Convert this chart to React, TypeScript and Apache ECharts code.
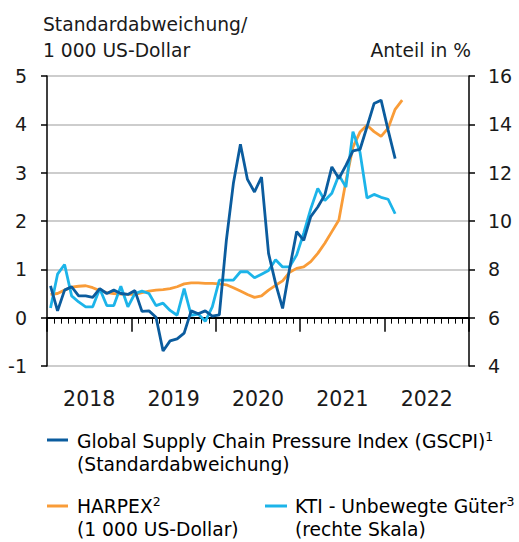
import React, { useEffect, useRef } from "react";
import * as echarts from "echarts";

const years = ["2018", "2019", "2020", "2021", "2022"];

// GSCPI (Standardabweichung), monthly from Jan 2018
const gscpi = [
  0.66, 0.14, 0.57, 0.64, 0.45, 0.45, 0.42, 0.6, 0.5, 0.57, 0.5, 0.48,
  0.56, 0.13, 0.14, 0.01, -0.69, -0.48, -0.44, -0.32, 0.14, 0.08, 0.14, 0.03,
  0.06, 1.6, 2.78, 3.59, 2.86, 2.6, 2.91, 1.33, 0.71, 0.19, 1.02, 1.78,
  1.6, 2.09, 2.29, 2.54, 3.12, 2.88, 3.15, 3.45, 3.48, 3.95, 4.43, 4.5,
  3.88, 3.29,
];

// HARPEX (1 000 US-Dollar), monthly from Jan 2018
const harpex = [
  0.48, 0.5, 0.57, 0.63, 0.65, 0.66, 0.62, 0.56, 0.52, 0.5, 0.49, 0.48,
  0.48, 0.52, 0.55, 0.57, 0.58, 0.6, 0.64, 0.7, 0.72, 0.72, 0.71, 0.71,
  0.7, 0.68, 0.62, 0.55, 0.48, 0.42, 0.45, 0.57, 0.67, 0.76, 0.94, 1.02,
  1.05, 1.16, 1.33, 1.54, 1.78, 2.02, 2.82, 3.53, 3.84, 3.98, 3.85, 3.75,
  3.92, 4.31, 4.5,
];

// KTI - Unbewegte Güter (Anteil in %, rechte Skala), monthly from Jan 2018
const kti = [
  6.4, 7.8, 8.2, 6.9, 6.65, 6.45, 6.45, 7.2, 6.5, 6.5, 7.3, 6.45,
  7.0, 7.1, 7.0, 6.5, 6.6, 6.3, 6.1, 7.2, 6.1, 6.15, 5.85, 6.45,
  7.55, 7.55, 7.55, 7.9, 7.9, 7.65, 7.8, 7.95, 8.4, 8.1, 8.1, 8.6,
  9.5, 10.5, 11.35, 10.85, 11.15, 11.9, 11.4, 13.7, 12.85, 10.95, 11.1, 10.98,
  10.9, 10.3,
];

const leftTicks = { min: -1, max: 5, interval: 1 };
const rightTicks = { min: 4, max: 16, interval: 2 };

const FONT = "DejaVu Sans";
const FS = 18.7;
const TXT = "#1a1a1a";
const C_GSCPI = "#0b5c9e";
const C_HARPEX = "#f99c38";
const C_KTI = "#1cb4e9";

const toPts = (arr: number[]) => arr.map((v, i) => [i + 0.5, v]);

export default function App() {
  const ref = useRef<HTMLDivElement>(null);
  useEffect(() => {
    if (!ref.current) return;
    const chart = echarts.init(ref.current, undefined, { renderer: "svg" });
    const richMain = { fontSize: FS, lineHeight: 23, fontFamily: FONT, color: TXT };
    const richSup = { fontSize: 12.5, lineHeight: 19, fontFamily: FONT, color: TXT, verticalAlign: "top" };
    chart.setOption({
      animation: false,
      backgroundColor: "#ffffff",
      textStyle: { fontFamily: FONT },
      grid: { left: 47, right: 50, top: 76, bottom: 176, containLabel: false },
      xAxis: [
        {
          type: "value",
          min: 0,
          max: 60,
          interval: 12,
          axisLine: { show: true, lineStyle: { color: "#000", width: 1.5 } },
          axisTick: { show: true, length: 14, lineStyle: { color: "#000", width: 1.5 } },
          minorTick: { show: true, splitNumber: 12, length: 6, lineStyle: { color: "#000", width: 1 } },
          axisLabel: { show: false },
          splitLine: { show: false },
        },
        {
          type: "category",
          data: years,
          position: "bottom",
          boundaryGap: true,
          axisLine: { show: false },
          axisTick: { show: false },
          axisLabel: { show: true, margin: 22, fontSize: 20.5, color: TXT, fontFamily: FONT },
          splitLine: { show: false },
        },
      ],
      yAxis: [
        {
          type: "value",
          ...leftTicks,
          position: "left",
          axisLine: { show: true, lineStyle: { color: "#000", width: 1.5 } },
          axisTick: { show: true, length: 6, lineStyle: { color: "#000", width: 1.5 } },
          axisLabel: { margin: 20, fontSize: 19, color: TXT, fontFamily: FONT },
          splitLine: { show: true, lineStyle: { color: "#bdbdbd", width: 1.5 } },
        },
        {
          type: "value",
          ...rightTicks,
          position: "right",
          axisLine: { show: true, lineStyle: { color: "#000", width: 1.5 } },
          axisTick: { show: true, length: 6, lineStyle: { color: "#000", width: 1.5 } },
          axisLabel: { margin: 19, fontSize: 19, color: TXT, fontFamily: FONT, align: "left" },
          splitLine: { show: false },
        },
      ],
      series: [
        {
          name: "HARPEX",
          type: "line",
          xAxisIndex: 0,
          yAxisIndex: 0,
          data: toPts(harpex),
          showSymbol: false,
          lineStyle: { color: C_HARPEX, width: 2.8 },
          itemStyle: { color: C_HARPEX },
          z: 3,
        },
        {
          name: "KTI",
          type: "line",
          xAxisIndex: 0,
          yAxisIndex: 1,
          data: toPts(kti),
          showSymbol: false,
          lineStyle: { color: C_KTI, width: 2.8 },
          itemStyle: { color: C_KTI },
          z: 4,
        },
        {
          name: "GSCPI",
          type: "line",
          xAxisIndex: 0,
          yAxisIndex: 0,
          data: toPts(gscpi),
          showSymbol: false,
          lineStyle: { color: C_GSCPI, width: 2.8 },
          itemStyle: { color: C_GSCPI },
          z: 5,
          markLine: {
            silent: true,
            symbol: ["none", "none"],
            label: { show: false },
            lineStyle: { color: "#000", width: 1.8, type: "solid" },
            data: [{ yAxis: 0 }],
            z: 1,
          },
        },
      ],
      graphic: [
        {
          type: "text",
          x: 43,
          y: 11,
          style: {
            text: "Standardabweichung/\n1 000 US-Dollar",
            fontSize: FS,
            lineHeight: 26,
            fontFamily: FONT,
            fill: TXT,
            align: "left",
            verticalAlign: "top",
          },
        },
        {
          type: "text",
          x: 471,
          y: 37,
          style: {
            text: "Anteil in %",
            fontSize: FS,
            lineHeight: 26,
            fontFamily: FONT,
            fill: TXT,
            align: "right",
            verticalAlign: "top",
          },
        },
        {
          type: "line",
          shape: { x1: 47, y1: 440, x2: 68, y2: 440 },
          style: { stroke: C_GSCPI, lineWidth: 3 },
        },
        {
          type: "text",
          x: 77,
          y: 430,
          style: {
            text: "{a|Global Supply Chain Pressure Index (GSCPI)}{s|1}\n{a|(Standardabweichung)}",
            rich: { a: richMain, s: richSup },
            align: "left",
            verticalAlign: "top",
          },
        },
        {
          type: "line",
          shape: { x1: 47, y1: 506, x2: 68, y2: 506 },
          style: { stroke: C_HARPEX, lineWidth: 3 },
        },
        {
          type: "text",
          x: 77,
          y: 495,
          style: {
            text: "{a|HARPEX}{s|2}\n{a|(1 000 US-Dollar)}",
            rich: { a: richMain, s: richSup },
            align: "left",
            verticalAlign: "top",
          },
        },
        {
          type: "line",
          shape: { x1: 265, y1: 506, x2: 287, y2: 506 },
          style: { stroke: C_KTI, lineWidth: 3 },
        },
        {
          type: "text",
          x: 295,
          y: 495,
          style: {
            text: "{a|KTI - Unbewegte Güter}{s|3}\n{a|(rechte Skala)}",
            rich: { a: richMain, s: richSup },
            align: "left",
            verticalAlign: "top",
          },
        },
      ],
    });
    return () => chart.dispose();
  }, []);
  return (
    <div
      ref={ref}
      style={{ position: "fixed", left: 0, top: 0, width: 519, height: 542, background: "#fff" }}
    />
  );
}
